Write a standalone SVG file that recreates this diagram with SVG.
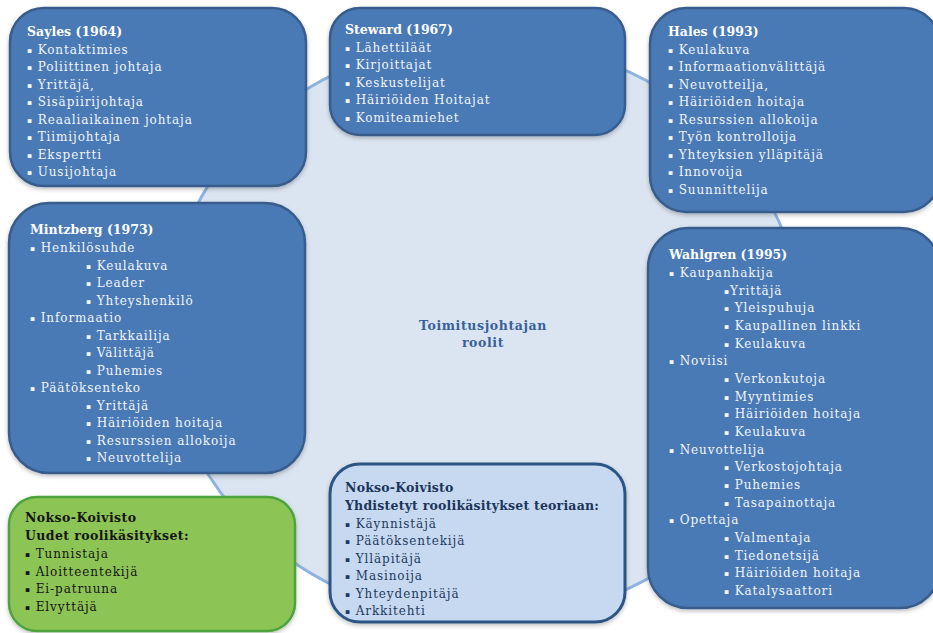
<svg xmlns="http://www.w3.org/2000/svg" width="933" height="633" viewBox="0 0 933 633">
  <style>
    .box { fill: #4a7ab6; stroke: #375c8c; stroke-width: 2.5; }
    .green { fill: #8dc456; stroke: #4fa33c; stroke-width: 2.5; }
    .pale { fill: #c6d9f0; stroke: #2b5485; stroke-width: 3; }
    .hub { fill: #dbe5f1; stroke: #8fb3e0; stroke-width: 3; }
    text { font-family: "DejaVu Serif", "Liberation Serif", serif; font-size: 12px; }
    .w { fill: #f2f5fa; letter-spacing: 0.9px; }
    .wh { fill: #ffffff; font-weight: bold; font-size: 12.5px; }
    .k { fill: #151515; letter-spacing: 0.9px; }
    .kh { fill: #151515; font-weight: bold; font-size: 12.5px; letter-spacing: 0.4px; }
    .n { fill: #1f3a60; letter-spacing: 0.9px; }
    .nh { fill: #1c355a; font-weight: bold; font-size: 12.5px; letter-spacing: 0.2px; }
    .c { fill: #3a6099; font-weight: bold; font-size: 12.5px; letter-spacing: 0.6px; text-anchor: middle; }
    .b { font-size: 7.5px; }
  </style>
  <defs>
    <filter id="shadow" x="-10%" y="-10%" width="120%" height="125%">
      <feDropShadow dx="0" dy="2" stdDeviation="2" flood-color="#000" flood-opacity="0.25"/>
    </filter>
  </defs>

  <rect width="933" height="633" fill="#ffffff"/>

  <!-- central hub -->
  <g id="hub">
    <ellipse class="hub" cx="484" cy="330" rx="318" ry="290"/>
    <text class="c" x="483" y="330">Toimitusjohtajan</text>
    <text class="c" x="483" y="347">roolit</text>
  </g>

  <g id="connectors"></g>

  <!-- Sayles -->
  <g id="sayles">
    <rect class="box" x="10" y="8" width="296" height="178" rx="34" filter="url(#shadow)"/>
    <text class="wh" x="27" y="36">Sayles (1964)</text>
    <text class="w" x="27" y="53.5"><tspan class="b" baseline-shift="1.5">▪</tspan> Kontaktimies</text>
    <text class="w" x="27" y="71"><tspan class="b" baseline-shift="1.5">▪</tspan> Poliittinen johtaja</text>
    <text class="w" x="27" y="88.5"><tspan class="b" baseline-shift="1.5">▪</tspan> Yrittäjä,</text>
    <text class="w" x="27" y="106"><tspan class="b" baseline-shift="1.5">▪</tspan> Sisäpiirijohtaja</text>
    <text class="w" x="27" y="123.5"><tspan class="b" baseline-shift="1.5">▪</tspan> Reaaliaikainen johtaja</text>
    <text class="w" x="27" y="141"><tspan class="b" baseline-shift="1.5">▪</tspan> Tiimijohtaja</text>
    <text class="w" x="27" y="158.5"><tspan class="b" baseline-shift="1.5">▪</tspan> Ekspertti</text>
    <text class="w" x="27" y="176"><tspan class="b" baseline-shift="1.5">▪</tspan> Uusijohtaja</text>
  </g>

  <!-- Steward -->
  <g id="steward">
    <rect class="box" x="330" y="8" width="295" height="127" rx="30" filter="url(#shadow)"/>
    <text class="wh" x="345" y="34">Steward (1967)</text>
    <text class="w" x="345" y="51.5"><tspan class="b" baseline-shift="1.5">▪</tspan> Lähettiläät</text>
    <text class="w" x="345" y="69"><tspan class="b" baseline-shift="1.5">▪</tspan> Kirjoittajat</text>
    <text class="w" x="345" y="86.5"><tspan class="b" baseline-shift="1.5">▪</tspan> Keskustelijat</text>
    <text class="w" x="345" y="104"><tspan class="b" baseline-shift="1.5">▪</tspan> Häiriöiden Hoitajat</text>
    <text class="w" x="345" y="121.5"><tspan class="b" baseline-shift="1.5">▪</tspan> Komiteamiehet</text>
  </g>

  <!-- Hales -->
  <g id="hales">
    <rect class="box" x="650" y="8" width="290" height="204" rx="36" filter="url(#shadow)"/>
    <text class="wh" x="668" y="36">Hales (1993)</text>
    <text class="w" x="668" y="53.5"><tspan class="b" baseline-shift="1.5">▪</tspan> Keulakuva</text>
    <text class="w" x="668" y="71"><tspan class="b" baseline-shift="1.5">▪</tspan> Informaationvälittäjä</text>
    <text class="w" x="668" y="88.5"><tspan class="b" baseline-shift="1.5">▪</tspan> Neuvotteilja,</text>
    <text class="w" x="668" y="106"><tspan class="b" baseline-shift="1.5">▪</tspan> Häiriöiden hoitaja</text>
    <text class="w" x="668" y="123.5"><tspan class="b" baseline-shift="1.5">▪</tspan> Resurssien allokoija</text>
    <text class="w" x="668" y="141"><tspan class="b" baseline-shift="1.5">▪</tspan> Työn kontrolloija</text>
    <text class="w" x="668" y="158.5"><tspan class="b" baseline-shift="1.5">▪</tspan> Yhteyksien ylläpitäjä</text>
    <text class="w" x="668" y="176"><tspan class="b" baseline-shift="1.5">▪</tspan> Innovoija</text>
    <text class="w" x="668" y="193.5"><tspan class="b" baseline-shift="1.5">▪</tspan> Suunnittelija</text>
  </g>

  <!-- Mintzberg -->
  <g id="mintzberg">
    <rect class="box" x="9" y="203" width="296" height="270" rx="40" filter="url(#shadow)"/>
    <text class="wh" x="30" y="234">Mintzberg (1973)</text>
    <text class="w" x="30" y="252"><tspan class="b" baseline-shift="1.5">▪</tspan> Henkilösuhde</text>
    <text class="w" x="86" y="269.5"><tspan class="b" baseline-shift="1.5">▪</tspan> Keulakuva</text>
    <text class="w" x="86" y="287"><tspan class="b" baseline-shift="1.5">▪</tspan> Leader</text>
    <text class="w" x="86" y="304.5"><tspan class="b" baseline-shift="1.5">▪</tspan> Yhteyshenkilö</text>
    <text class="w" x="30" y="322"><tspan class="b" baseline-shift="1.5">▪</tspan> Informaatio</text>
    <text class="w" x="86" y="339.5"><tspan class="b" baseline-shift="1.5">▪</tspan> Tarkkailija</text>
    <text class="w" x="86" y="357"><tspan class="b" baseline-shift="1.5">▪</tspan> Välittäjä</text>
    <text class="w" x="86" y="374.5"><tspan class="b" baseline-shift="1.5">▪</tspan> Puhemies</text>
    <text class="w" x="30" y="392"><tspan class="b" baseline-shift="1.5">▪</tspan> Päätöksenteko</text>
    <text class="w" x="86" y="409.5"><tspan class="b" baseline-shift="1.5">▪</tspan> Yrittäjä</text>
    <text class="w" x="86" y="427"><tspan class="b" baseline-shift="1.5">▪</tspan> Häiriöiden hoitaja</text>
    <text class="w" x="86" y="444.5"><tspan class="b" baseline-shift="1.5">▪</tspan> Resurssien allokoija</text>
    <text class="w" x="86" y="462"><tspan class="b" baseline-shift="1.5">▪</tspan> Neuvottelija</text>
  </g>

  <!-- Wahlgren -->
  <g id="wahlgren">
    <rect class="box" x="648" y="228" width="292" height="380" rx="40" filter="url(#shadow)"/>
    <text class="wh" x="669" y="259">Wahlgren (1995)</text>
    <text class="w" x="669" y="277"><tspan class="b" baseline-shift="1.5">▪</tspan> Kaupanhakija</text>
    <text class="w" x="724" y="294.7"><tspan class="b" baseline-shift="1.5">▪</tspan>Yrittäjä</text>
    <text class="w" x="724" y="312.3"><tspan class="b" baseline-shift="1.5">▪</tspan> Yleispuhuja</text>
    <text class="w" x="724" y="330"><tspan class="b" baseline-shift="1.5">▪</tspan> Kaupallinen linkki</text>
    <text class="w" x="724" y="347.7"><tspan class="b" baseline-shift="1.5">▪</tspan> Keulakuva</text>
    <text class="w" x="669" y="365.3"><tspan class="b" baseline-shift="1.5">▪</tspan> Noviisi</text>
    <text class="w" x="724" y="383"><tspan class="b" baseline-shift="1.5">▪</tspan> Verkonkutoja</text>
    <text class="w" x="724" y="400.7"><tspan class="b" baseline-shift="1.5">▪</tspan> Myyntimies</text>
    <text class="w" x="724" y="418.3"><tspan class="b" baseline-shift="1.5">▪</tspan> Häiriöiden hoitaja</text>
    <text class="w" x="724" y="436"><tspan class="b" baseline-shift="1.5">▪</tspan> Keulakuva</text>
    <text class="w" x="669" y="453.7"><tspan class="b" baseline-shift="1.5">▪</tspan> Neuvottelija</text>
    <text class="w" x="724" y="471.3"><tspan class="b" baseline-shift="1.5">▪</tspan> Verkostojohtaja</text>
    <text class="w" x="724" y="489"><tspan class="b" baseline-shift="1.5">▪</tspan> Puhemies</text>
    <text class="w" x="724" y="506.7"><tspan class="b" baseline-shift="1.5">▪</tspan> Tasapainottaja</text>
    <text class="w" x="669" y="524.3"><tspan class="b" baseline-shift="1.5">▪</tspan> Opettaja</text>
    <text class="w" x="724" y="542"><tspan class="b" baseline-shift="1.5">▪</tspan> Valmentaja</text>
    <text class="w" x="724" y="559.7"><tspan class="b" baseline-shift="1.5">▪</tspan> Tiedonetsijä</text>
    <text class="w" x="724" y="577.3"><tspan class="b" baseline-shift="1.5">▪</tspan> Häiriöiden hoitaja</text>
    <text class="w" x="724" y="595"><tspan class="b" baseline-shift="1.5">▪</tspan> Katalysaattori</text>
  </g>

  <!-- Nokso-Koivisto: new role concepts -->
  <g id="nokso-uudet">
    <rect class="green" x="9" y="497" width="286" height="134" rx="28" filter="url(#shadow)"/>
    <text class="kh" x="25" y="522">Nokso-Koivisto</text>
    <text class="kh" x="25" y="540">Uudet roolikäsitykset:</text>
    <text class="k" x="25" y="558"><tspan class="b" baseline-shift="1.5">▪</tspan> Tunnistaja</text>
    <text class="k" x="25" y="575.5"><tspan class="b" baseline-shift="1.5">▪</tspan> Aloitteentekijä</text>
    <text class="k" x="25" y="593"><tspan class="b" baseline-shift="1.5">▪</tspan> Ei-patruuna</text>
    <text class="k" x="25" y="610.5"><tspan class="b" baseline-shift="1.5">▪</tspan> Elvyttäjä</text>
  </g>

  <!-- Nokso-Koivisto: combined role concepts -->
  <g id="nokso-yhdistetyt">
    <rect class="pale" x="330" y="464" width="295" height="158" rx="30" filter="url(#shadow)"/>
    <text class="nh" x="345" y="492">Nokso-Koivisto</text>
    <text class="nh" x="345" y="510">Yhdistetyt roolikäsitykset teoriaan:</text>
    <text class="n" x="345" y="527.5"><tspan class="b" baseline-shift="1.5">▪</tspan> Käynnistäjä</text>
    <text class="n" x="345" y="545"><tspan class="b" baseline-shift="1.5">▪</tspan> Päätöksentekijä</text>
    <text class="n" x="345" y="562.5"><tspan class="b" baseline-shift="1.5">▪</tspan> Ylläpitäjä</text>
    <text class="n" x="345" y="580"><tspan class="b" baseline-shift="1.5">▪</tspan> Masinoija</text>
    <text class="n" x="345" y="597.5"><tspan class="b" baseline-shift="1.5">▪</tspan> Yhteydenpitäjä</text>
    <text class="n" x="345" y="615"><tspan class="b" baseline-shift="1.5">▪</tspan> Arkkitehti</text>
  </g>
</svg>
